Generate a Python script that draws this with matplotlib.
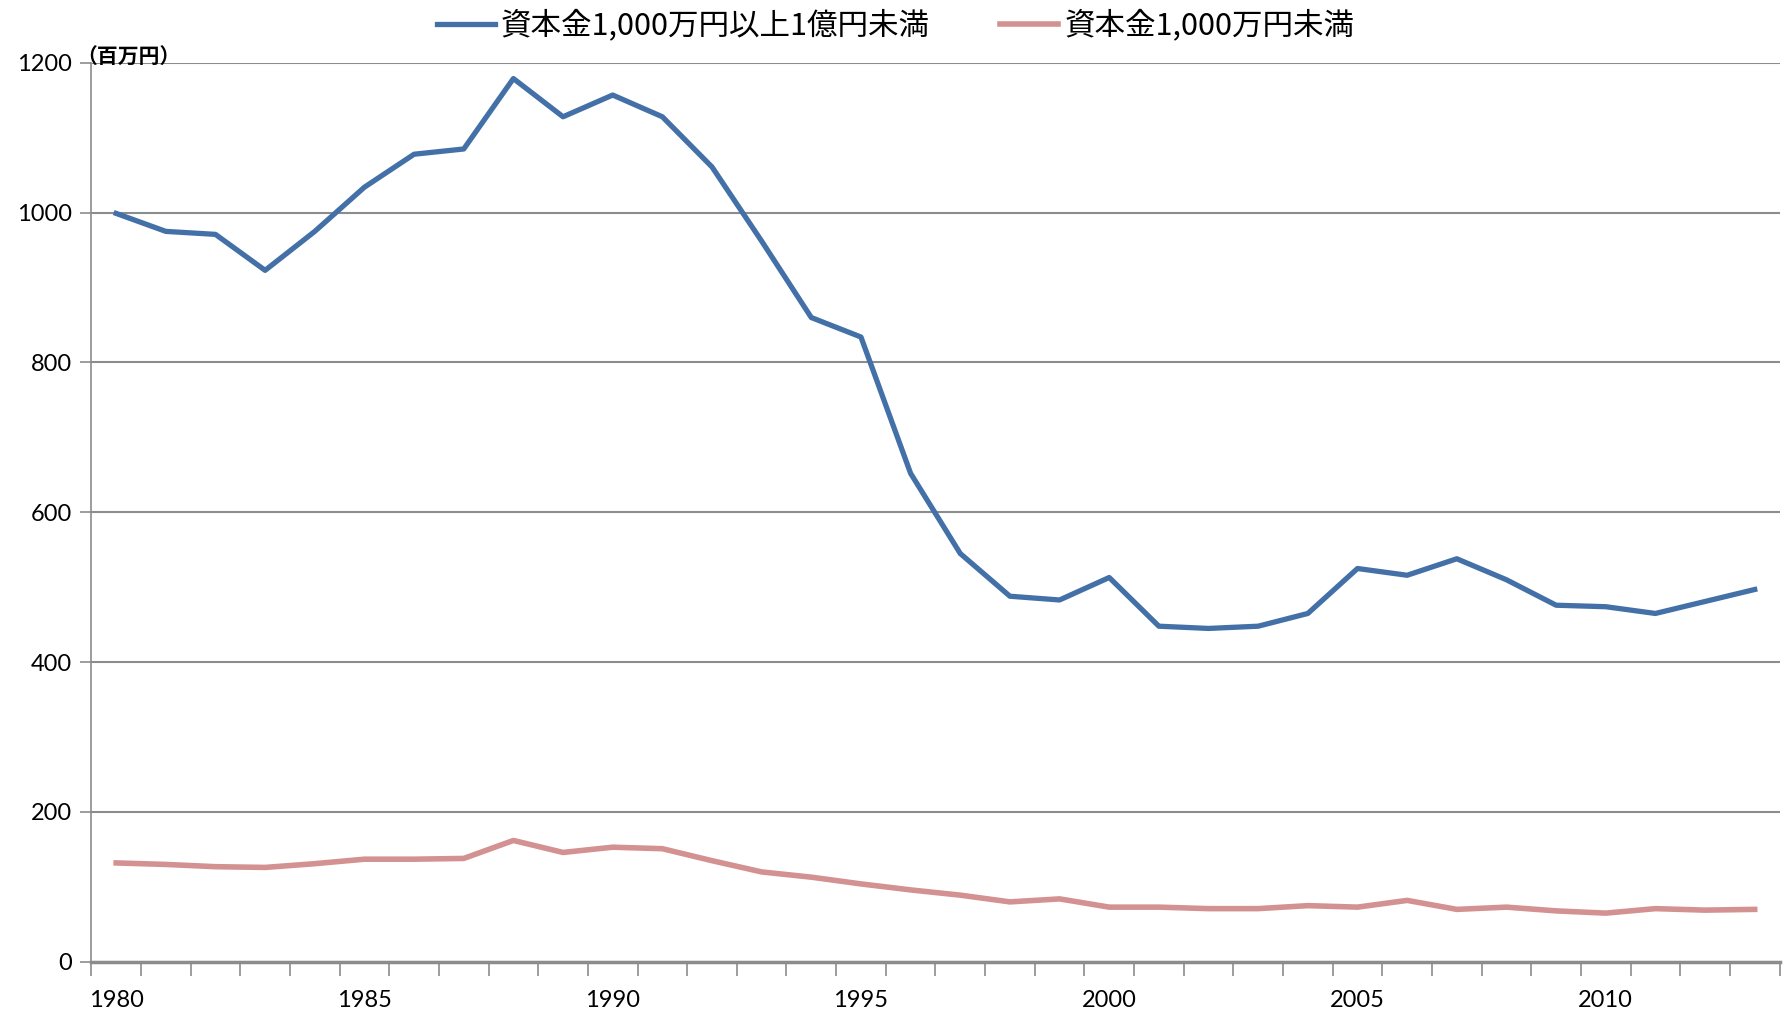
import numpy as np
import matplotlib.pyplot as plt
from matplotlib.ticker import FixedLocator

plt.rcParams["font.family"] = ["Lato", "DejaVu Sans"]

years = list(range(1980, 2014))

# 資本金1,000万円以上1億円未満 (百万円)
mid_size = [999, 975, 971, 923, 975, 1034, 1078, 1085, 1179, 1128,
            1157, 1128, 1061, 962, 860, 834, 652, 545, 488, 483,
            513, 448, 445, 448, 465, 525, 516, 538, 510, 476,
            474, 465, 481, 497]

# 資本金1,000万円未満 (百万円)
small_size = [132, 130, 127, 126, 131, 137, 137, 138, 162, 146,
              153, 151, 135, 120, 113, 104, 96, 89, 80, 84,
              73, 73, 71, 71, 75, 73, 82, 70, 73, 68,
              65, 71, 69, 70]

labels = ["資本金1,000万円以上1億円未満", "資本金1,000万円未満"]
colors = ["#4470A8", "#D39191"]
yticks = [0, 200, 400, 600, 800, 1000, 1200]

fig = plt.figure(figsize=(17.91, 10.10), dpi=100)
ax = fig.add_axes([0.051, 0.0477, 0.9426, 0.8901])

ax.plot(years, mid_size, color=colors[0], lw=3.8, label=labels[0])
ax.plot(years, small_size, color=colors[1], lw=4.0, label=labels[1])

ax.set_xlim(1979.5, 2013.5)
ax.set_ylim(0, 1200)

ax.set_yticks(yticks)
ax.yaxis.grid(True, color="#8c8c8c", lw=1.5)
ax.set_axisbelow(True)
ax.tick_params(axis="y", length=8, width=1.2, color="#8c8c8c", labelsize=17, pad=6)

ax.set_xticks(years[::5])
ax.xaxis.set_minor_locator(FixedLocator(np.arange(1979.5, 2014, 1)))
ax.tick_params(axis="x", which="major", length=0, labelsize=17, pad=20)
ax.tick_params(axis="x", which="minor", length=10, width=1.2, color="#8c8c8c")

for s in ["top", "right"]:
    ax.spines[s].set_visible(False)
ax.spines["left"].set_color("#8c8c8c")
ax.spines["left"].set_linewidth(1.2)
ax.spines["bottom"].set_color("#8c8c8c")
ax.spines["bottom"].set_linewidth(2.5)

ax.annotate("（百万円）", xy=(0, 1), xycoords="axes fraction", xytext=(-11, 4),
            textcoords="offset points", ha="left", va="center",
            fontsize=15, fontweight="bold", family=["Noto Sans CJK JP"])

fig.legend(loc="upper center", bbox_to_anchor=(0.5, 1.018), ncol=2, frameon=False,
           prop={"family": ["Noto Sans CJK JP", "DejaVu Sans"], "size": 22},
           handlelength=1.9, handletextpad=0.2, columnspacing=2.3)

plt.savefig("out.png", dpi=100)
